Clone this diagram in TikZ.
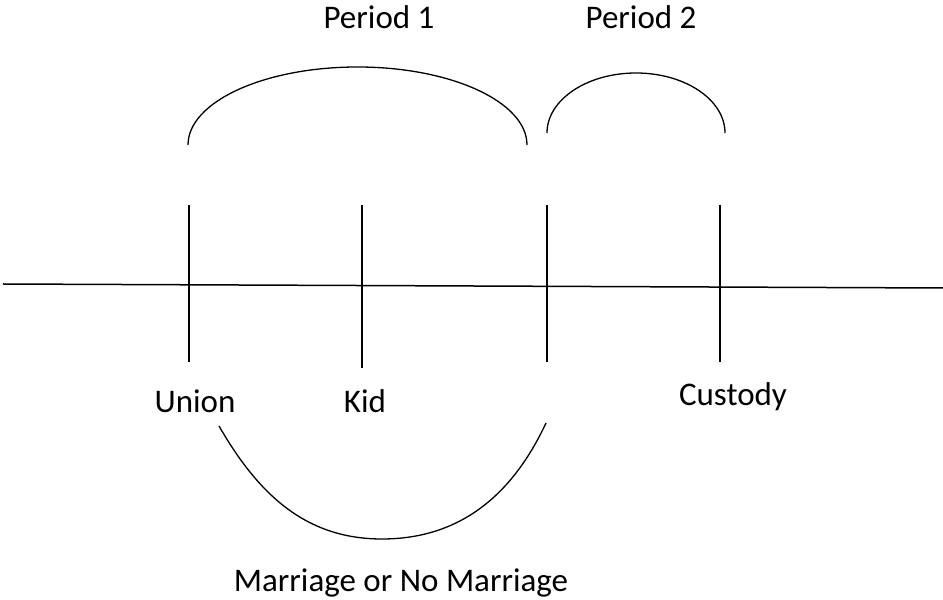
\documentclass[tikz,border=0pt]{standalone}
\usepackage{fontspec}
\setmainfont{Carlito}
\usetikzlibrary{positioning}

\begin{document}
\begin{tikzpicture}[
    x=1pt, y=1pt,
    line width=1.3pt,
    label/.style={inner sep=0pt, anchor=base, font=\fontsize{33}{36}\selectfont},
    tick/.style={line width=1.3pt}
  ]
    \useasboundingbox (0,0) rectangle (943,600);

    % time line and ticks
    \coordinate (lstart) at (3,316);
    \coordinate (lend) at (943,312);
    \draw[line width=1.5pt] (lstart) -- (lend);

    \coordinate (t1top) at (189,395); \coordinate (t1bot) at (189,238);
    \coordinate (t2top) at (362,395); \coordinate (t2bot) at (362,232);
    \coordinate (t3top) at (547,395); \coordinate (t3bot) at (547,238);
    \coordinate (t4top) at (720,395); \coordinate (t4bot) at (720,238);
    \draw[tick] (t1top) -- (t1bot);
    \draw[tick] (t2top) -- (t2bot);
    \draw[tick] (t3top) -- (t3bot);
    \draw[tick] (t4top) -- (t4bot);

    % period arcs
    \coordinate (p1l) at (188,455);
    \draw (p1l) arc[start angle=180, end angle=0, x radius=169.5, y radius=78];

    \coordinate (p2l) at (547,467);
    \draw (p2l) arc[start angle=180, end angle=0, x radius=89, y radius=60];

    % marriage arc
    \coordinate (ml) at (219,174);
    \coordinate (mm) at (382,61);
    \coordinate (mr) at (546,177);
    \draw (ml) to[out=-60, in=180] (mm) to[out=0, in=-115] (mr);

    % labels
    \node[label] (period1) at (379,571) {Period 1};
    \node[label] (period2) at (641,571) {Period 2};
    \node[label] (union) at (195,187) {Union};
    \node[label] (kid) at (365,187) {Kid};
    \node[label] (custody) at (733,194) {Custody};
    \node[label] (marriage) at (401,9) {Marriage or No Marriage};
\end{tikzpicture}
\end{document}
